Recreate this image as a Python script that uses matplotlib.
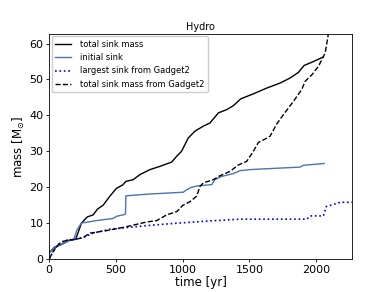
import matplotlib
matplotlib.use("Agg")
import matplotlib.pyplot as plt

# total sink mass (black solid)
t_total = [0, 40, 90, 150, 200, 242, 285, 330, 362, 405, 455, 505, 550, 575, 630, 680, 755, 830,
           918, 955, 992, 1042, 1092, 1155, 1205, 1268, 1330, 1380, 1435, 1530, 1630, 1730, 1805,
           1868, 1910, 1968, 2055]
m_total = [1.7, 3.3, 4.0, 5.2, 5.6, 10.0, 11.7, 12.3, 13.9, 15.0, 17.5, 19.7, 20.6, 21.6, 22.1,
           23.5, 24.9, 25.8, 27.0, 28.6, 30.0, 33.7, 35.6, 37.0, 37.9, 40.7, 41.6, 42.7, 44.6, 46.0,
           47.6, 49.0, 50.4, 52.0, 53.9, 54.8, 56.3]

# initial sink (blue)
t_init = [0, 42, 92, 155, 185, 210, 242, 355, 480, 505, 555, 572, 575, 755, 1005, 1030, 1068,
          1118, 1218, 1242, 1292, 1380, 1430, 1505, 1880, 1905, 2060]
m_init = [1.7, 3.3, 4.0, 5.2, 5.6, 8.2, 10.0, 10.7, 11.3, 11.9, 12.3, 12.5, 17.6, 18.1, 18.6,
          19.3, 20.0, 20.4, 20.7, 22.1, 23.0, 23.8, 24.6, 24.9, 25.6, 26.1, 26.6]

# largest sink from Gadget2 (blue dotted)
t_large = [0, 30, 68, 92, 130, 192, 255, 330, 456, 700, 930, 1200, 1432, 1931, 1955, 2055, 2076,
           2156, 2180, 2270]
m_large = [0, 2.1, 4.0, 4.7, 5.2, 5.4, 6.0, 7.2, 8.3, 9.2, 9.9, 10.6, 11.1, 11.1, 12.0, 12.0,
           14.6, 15.5, 15.8, 15.8]

# total sink mass from Gadget2 (black dashed)
t_gad = [0, 30, 68, 92, 130, 192, 255, 306, 430, 555, 730, 806, 881, 956, 1000, 1056, 1105, 1130,
         1155, 1230, 1280, 1355, 1418, 1480, 1530, 1568, 1618, 1655, 1705, 1755, 1830, 1892, 1918,
         1968, 2018, 2068, 2092, 2120]
m_gad = [0, 2.1, 4.0, 4.7, 5.2, 5.4, 6.0, 7.2, 7.9, 8.8, 10.3, 10.7, 12.3, 13.2, 14.9, 16.0, 17.5,
         20.2, 21.2, 22.1, 23.2, 24.4, 26.2, 27.2, 30.0, 32.5, 33.4, 34.2, 37.6, 40.2, 43.9, 47.2,
         49.5, 51.3, 53.7, 57.4, 62.8, 67.0]

fig, ax = plt.subplots(figsize=(3.9, 2.92), dpi=100)
fig.subplots_adjust(left=0.126, right=0.903, top=0.884, bottom=0.113)

ax.plot(t_total, m_total, color="black", lw=1.0, label="total sink mass")
ax.plot(t_init, m_init, color="#4c72b0", lw=1.0, label="initial sink")
ax.plot(t_large, m_large, color="blue", lw=1.2, ls=":", label="largest sink from Gadget2")
ax.plot(t_gad, m_gad, color="black", lw=1.0, ls="--", label="total sink mass from Gadget2")

ax.set_xlim(0, 2270)
ax.set_ylim(0, 62.7)
ax.set_title("Hydro", fontsize=7, pad=3)
ax.set_xlabel("time [yr]", fontsize=8.5, labelpad=1)
ax.set_ylabel(r"mass [M$_{\odot}$]", fontsize=8.5, labelpad=2)
ax.tick_params(labelsize=8, length=2.5, width=0.6, pad=1.5)
for s in ax.spines.values():
    s.set_linewidth(0.6)
ax.legend(loc="upper left", fontsize=6, handlelength=1.9, handletextpad=1.0, borderpad=0.45,
          labelspacing=0.5, borderaxespad=0.3, fancybox=True, framealpha=1.0, edgecolor="#cccccc")

fig.savefig("out.png", dpi=100)
